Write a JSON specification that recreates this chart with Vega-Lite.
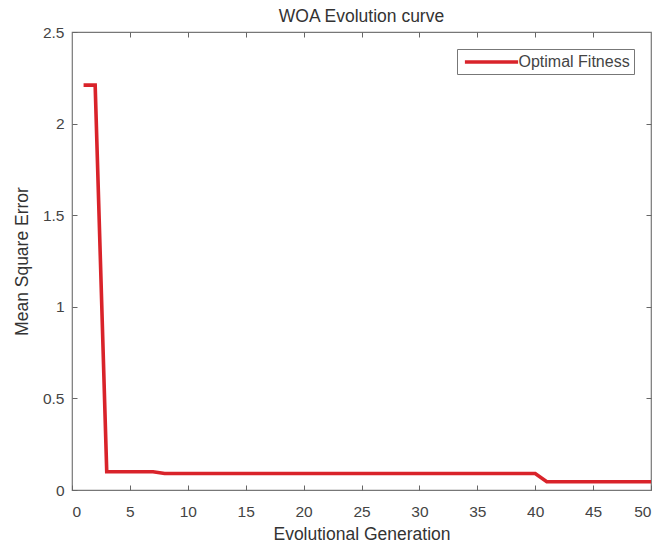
{
  "$schema": "https://vega.github.io/schema/vega-lite/v6.json",
  "width": 579,
  "height": 458,
  "autosize": {"type": "none"},
  "padding": {"left": 72, "top": 32, "right": 12, "bottom": 60},
  "background": "white",
  "title": {"text": "WOA Evolution curve", "fontSize": 17.5, "font": "Liberation Sans", "fontWeight": "normal", "color": "#333333", "offset": 0, "anchor": "middle"},
  "config": {
    "view": {"stroke": "#777777", "strokeWidth": 1.2},
    "axis": {"labelFont": "Liberation Sans", "titleFont": "Liberation Sans", "labelFontSize": 15.5, "titleFontSize": 17.5, "titleFontWeight": "normal", "labelColor": "#444444", "titleColor": "#333333", "tickColor": "#666666", "tickWidth": 1, "grid": false, "domain": false}
  },
  "data": {"values": [
    {"gen": 1, "mse": 2.21, "s": "Optimal Fitness"},
    {"gen": 2, "mse": 2.21, "s": "Optimal Fitness"},
    {"gen": 3, "mse": 0.1, "s": "Optimal Fitness"},
    {"gen": 4, "mse": 0.1, "s": "Optimal Fitness"},
    {"gen": 5, "mse": 0.1, "s": "Optimal Fitness"},
    {"gen": 6, "mse": 0.1, "s": "Optimal Fitness"},
    {"gen": 7, "mse": 0.1, "s": "Optimal Fitness"},
    {"gen": 8, "mse": 0.09, "s": "Optimal Fitness"},
    {"gen": 9, "mse": 0.09, "s": "Optimal Fitness"},
    {"gen": 10, "mse": 0.09, "s": "Optimal Fitness"},
    {"gen": 15, "mse": 0.09, "s": "Optimal Fitness"},
    {"gen": 20, "mse": 0.09, "s": "Optimal Fitness"},
    {"gen": 25, "mse": 0.09, "s": "Optimal Fitness"},
    {"gen": 30, "mse": 0.09, "s": "Optimal Fitness"},
    {"gen": 35, "mse": 0.09, "s": "Optimal Fitness"},
    {"gen": 40, "mse": 0.09, "s": "Optimal Fitness"},
    {"gen": 41, "mse": 0.045, "s": "Optimal Fitness"},
    {"gen": 45, "mse": 0.045, "s": "Optimal Fitness"},
    {"gen": 50, "mse": 0.045, "s": "Optimal Fitness"}
  ]},
  "layer": [
    {
      "mark": {"type": "line", "opacity": 0},
      "encoding": {
        "x": {"field": "gen", "type": "quantitative", "scale": {"domain": [0, 50], "nice": false, "zero": false}, "axis": {"orient": "top", "title": null, "labels": false, "values": [5,10,15,20,25,30,35,40,45], "tickSize": -5}},
        "y": {"field": "mse", "type": "quantitative", "scale": {"domain": [0, 2.5], "nice": false}, "axis": {"orient": "right", "title": null, "labels": false, "values": [0.5,1,1.5,2], "tickSize": -5}}
      }
    },
    {
      "mark": {"type": "line", "strokeWidth": 3.6, "clip": true},
      "encoding": {
        "x": {"field": "gen", "type": "quantitative", "scale": {"domain": [0, 50], "nice": false, "zero": false}, "axis": {"orient": "bottom", "title": "Evolutional Generation", "values": [0,5,10,15,20,25,30,35,40,45,50], "format": "~g", "tickSize": -5, "labelPadding": 19, "titlePadding": 6}},
        "y": {"field": "mse", "type": "quantitative", "scale": {"domain": [0, 2.5], "nice": false}, "axis": {"orient": "left", "title": "Mean Square Error", "values": [0,0.5,1,1.5,2,2.5], "format": "~g", "tickSize": -5, "labelPadding": 13, "titlePadding": 11}},
        "color": {"field": "s", "type": "nominal", "scale": {"range": ["#d9232a"]}, "legend": {"title": null, "orient": "top-right", "offset": 17, "symbolType": "M-3.8,0H3.8", "symbolStrokeWidth": 3.6, "symbolSize": 196, "symbolOffset": 21.5, "labelOffset": 18, "labelFont": "Liberation Sans", "labelFontSize": 16, "labelColor": "#444444", "strokeColor": "#777777", "fillColor": "white", "padding": 4}}
      }
    }
  ],
  "resolve": {"axis": {"x": "independent", "y": "independent"}}
}
